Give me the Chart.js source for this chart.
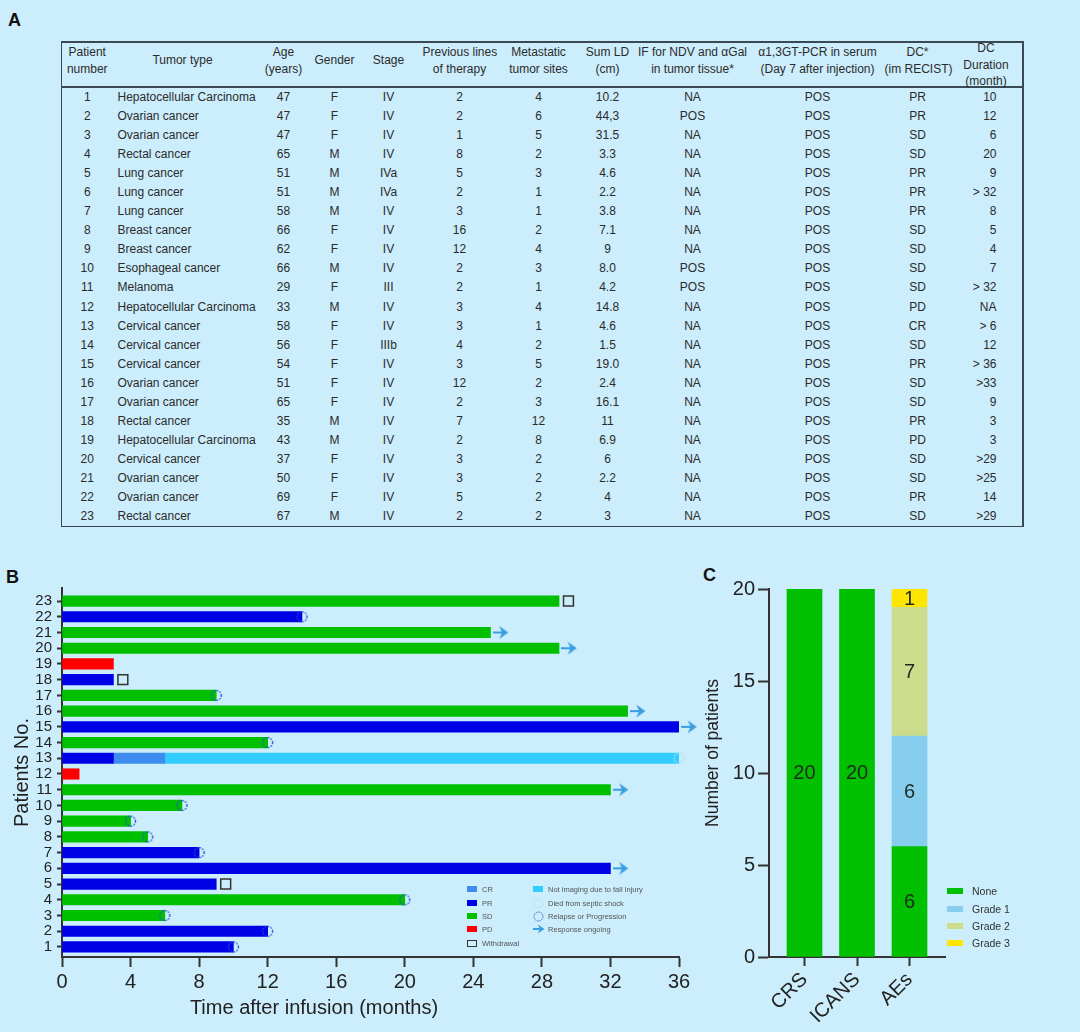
<!DOCTYPE html>
<html>
<head>
<meta charset="utf-8">
<script src="https://cdn.jsdelivr.net/npm/chart.js@4.4.1/dist/chart.umd.min.js"></script>
<style>
  body { margin: 0; width: 1080px; height: 1032px; background: #ccedfb; position: relative; overflow: hidden;
         font-family: Arial, "Liberation Sans", sans-serif; color: #2b2b2b; }
  .panel { position: absolute; font-weight: bold; font-size: 18px; color: #111; line-height: 18px; }
  #tbl { position: absolute; left: 61px; top: 41px; width: 962px; border-collapse: collapse; table-layout: fixed;
         font-size: 12px; border-top: 2px solid #3a4a54; border-bottom: 1.5px solid #3a4a54;
         border-left: 1.5px solid #3a4a54; border-right: 2px solid #3a4a54; }
  #tbl th { font-weight: normal; vertical-align: top; height: 43px; padding: 0; border-bottom: 2px solid #3a4a54;
            line-height: 16.5px; white-space: nowrap; overflow: visible; }
  #tbl th div { height: 0; overflow: visible; position: relative; }
  #tbl td { height: 19.05px; padding: 0; text-align: center; white-space: nowrap; line-height: 19px; }
  .box { position: absolute; }
  .leg { position: absolute; white-space: nowrap; }
  .leg span { position: absolute; top: 50%; transform: translateY(-50%); }
</style>
</head>
<body>
<div class="panel" style="left:8px;top:11px">A</div>
<div class="panel" style="left:6px;top:568px">B</div>
<div class="panel" style="left:703px;top:566px">C</div>

<table id="tbl"></table>

<div class="box" style="left:0;top:570px;width:720px;height:462px"><canvas id="swimmer"></canvas></div>
<div class="box" style="left:690px;top:570px;width:390px;height:462px"><canvas id="aes"></canvas></div>

<div id="xTitleB" style="position:absolute;left:114px;top:995px;width:400px;text-align:center;font-size:20px;color:#222;line-height:24px">Time after infusion (months)</div>
<div id="yTitleC" style="position:absolute;left:612px;top:742px;width:200px;height:22px;text-align:center;font-size:17.5px;color:#222;line-height:22px;transform:rotate(-90deg)">Number of patients</div>

<div id="legendB"></div>
<div id="legendC"></div>

<script>
// ---- table A ----
const patientNo = [1,2,3,4,5,6,7,8,9,10,11,12,13,14,15,16,17,18,19,20,21,22,23];
const tumorType = ['Hepatocellular Carcinoma','Ovarian cancer','Ovarian cancer','Rectal cancer','Lung cancer','Lung cancer',
  'Lung cancer','Breast cancer','Breast cancer','Esophageal cancer','Melanoma','Hepatocellular Carcinoma','Cervical cancer',
  'Cervical cancer','Cervical cancer','Ovarian cancer','Ovarian cancer','Rectal cancer','Hepatocellular Carcinoma',
  'Cervical cancer','Ovarian cancer','Ovarian cancer','Rectal cancer'];
const ageYears = [47,47,47,65,51,51,58,66,62,66,29,33,58,56,54,51,65,35,43,37,50,69,67];
const gender = ['F','F','F','M','M','M','M','F','F','M','F','M','F','F','F','F','F','M','M','F','F','F','M'];
const stage = ['IV','IV','IV','IV','IVa','IVa','IV','IV','IV','IV','III','IV','IV','IIIb','IV','IV','IV','IV','IV','IV','IV','IV','IV'];
const prevLines = [2,2,1,8,5,2,3,16,12,2,2,3,3,4,3,12,2,7,2,3,3,5,2];
const metSites = [4,6,5,2,3,1,1,2,4,3,1,4,1,2,5,2,3,12,8,2,2,2,2];
const sumLD = ['10.2','44,3','31.5','3.3','4.6','2.2','3.8','7.1','9','8.0','4.2','14.8','4.6','1.5','19.0','2.4','16.1','11','6.9','6','2.2','4','3'];
const ifTissue = ['NA','POS','NA','NA','NA','NA','NA','NA','NA','POS','POS','NA','NA','NA','NA','NA','NA','NA','NA','NA','NA','NA','NA'];
const pcrSerum = patientNo.map(() => 'POS');
const dcRecist = ['PR','PR','SD','SD','PR','PR','PR','SD','SD','SD','SD','PD','CR','SD','PR','SD','SD','PR','PD','SD','SD','PR','SD'];
const dcDuration = ['10','12','6','20','9','> 32','8','5','4','7','> 32','NA','> 6','12','> 36','>33','9','3','3','>29','>25','14','>29'];
const headers = ['Patient\nnumber','Tumor type','Age\n(years)','Gender','Stage','Previous lines\nof therapy','Metastatic\ntumor sites',
  'Sum LD\n(cm)','IF for NDV and \u03b1Gal\nin tumor tissue*','\u03b11,3GT-PCR in serum\n(Day 7 after injection)','DC*\n(im RECIST)','DC\nDuration\n(month)'];

// ---- panel B (swimmer) ----
const swimResponse = ['PR','PR','SD','SD','PR','PR','PR','SD','SD','SD','SD','PD','PR','SD','PR','SD','SD','PR','PD','SD','SD','PR','SD'];
const swimEnd = [10,12,6,20,9,32,8,5,4,7,32,1,3,12,36,33,9,3,3,29,25,14,29];
const crPatients = [13], crFrom = [3], crTo = [6];
const noImagingPatients = [13], noImagingFrom = [6], noImagingTo = [36];
const relapsePatients = [1,2,3,4,7,8,9,10,14,17,22];
const withdrawalPatients = [5,18,23];
const ongoingPatients = [6,11,15,16,20,21];
const septicPatients = [13];
const monthTicks = [0,4,8,12,16,20,24,28,32,36];

// ---- panel C (adverse events) ----
const aeCategories = ['CRS','ICANS','AEs'];
const gradeNone = [20,20,6];
const grade1 = [0,0,6];
const grade2 = [0,0,7];
const grade3 = [0,0,1];

// build table
const colWidths = [51,140,62,40,68,74,84,54,116,134,66,72];
const tbl = document.getElementById('tbl');
const cg = document.createElement('colgroup');
colWidths.forEach(w => { const c = document.createElement('col'); c.style.width = w + 'px'; cg.appendChild(c); });
tbl.appendChild(cg);
const hr = document.createElement('tr');
const headOffset = {1: 8.5, 2: 1, 3: -3};
headers.forEach(h => {
  const th = document.createElement('th');
  const d = document.createElement('div');
  const lines = h.split('\n');
  d.style.top = headOffset[lines.length] + 'px';
  d.innerHTML = lines.join('<br>');
  th.appendChild(d);
  hr.appendChild(th);
});
tbl.appendChild(hr);
patientNo.forEach((p, i) => {
  const tr = document.createElement('tr');
  const cells = [p, tumorType[i], ageYears[i], gender[i], stage[i], prevLines[i], metSites[i], sumLD[i], ifTissue[i], pcrSerum[i], dcRecist[i], dcDuration[i]];
  cells.forEach((v, k) => {
    const td = document.createElement('td');
    td.textContent = v;
    if (k === 1) { td.style.textAlign = 'left'; td.style.paddingLeft = '5px'; }
    if (k === 11) { td.style.textAlign = 'right'; td.style.paddingRight = '25px'; }
    tr.appendChild(td);
  });
  tbl.appendChild(tr);
});

// marker images
function makeMarker(w, h, draw) {
  const c = document.createElement('canvas');
  c.width = w; c.height = h;
  draw(c.getContext('2d'), w, h);
  return c;
}
function dotCircle(color) {
  return (x, w, h) => {
    x.setLineDash([1.6, 1.3]); x.lineWidth = 1.3; x.strokeStyle = color;
    x.beginPath(); x.arc(w / 2, h / 2, 5, 0, Math.PI * 2); x.stroke();
  };
}
function arrowDraw(x, w, h) {
  x.fillStyle = '#3a9ee0';
  x.fillRect(0, h / 2 - 1, w * 0.6, 2);
  x.beginPath();
  x.moveTo(w * 0.4, 0.5); x.lineTo(w - 0.5, h / 2); x.lineTo(w * 0.4, h - 0.5); x.lineTo(w * 0.58, h / 2);
  x.closePath(); x.fill();
}
const relapseImg = makeMarker(13, 13, dotCircle('#1f4fd8'));
const septicImg = makeMarker(13, 13, dotCircle('#a8def6'));
const arrowImg = makeMarker(16, 14, arrowDraw);

const responseColors = {CR: '#3f8cf0', PR: '#0000e6', SD: '#00c000', PD: '#ff0000'};
const noImagingColor = '#33ccff';
const axisColor = '#333';
const fontFamily = 'Arial, "Liberation Sans", sans-serif';
Chart.defaults.font.family = fontFamily;

function responseBars(resp) {
  return {
    type: 'bar', label: resp, indexAxis: 'y', grouped: false, order: 3,
    data: patientNo.filter((p, i) => swimResponse[i] === resp).map(p => ({y: p, x: [0, swimEnd[p - 1]]})),
    backgroundColor: responseColors[resp], barThickness: 10.5, borderWidth: 0
  };
}
const endOf = p => swimEnd[p - 1];

new Chart(document.getElementById('swimmer'), {
  type: 'bar',
  data: {
    datasets: [
      responseBars('PR'), responseBars('SD'), responseBars('PD'),
      { type: 'bar', label: 'CR', indexAxis: 'y', grouped: false, order: 3, barThickness: 10.5,
        data: crPatients.map((p, i) => ({y: p, x: [crFrom[i], crTo[i]]})), backgroundColor: responseColors.CR },
      { type: 'bar', label: 'Not imaging due to fall injury', indexAxis: 'y', grouped: false, order: 3, barThickness: 10.5,
        data: noImagingPatients.map((p, i) => ({y: p, x: [noImagingFrom[i], noImagingTo[i]]})), backgroundColor: noImagingColor },
      { type: 'scatter', label: 'Relapse or Progression', order: 1, clip: false, pointStyle: relapseImg, pointRadius: 7,
        data: relapsePatients.map(p => ({x: endOf(p), y: p})) },
      { type: 'scatter', label: 'Died from septic shock', order: 1, clip: false, pointStyle: septicImg, pointRadius: 7,
        data: septicPatients.map((p, i) => ({x: noImagingTo[i], y: p})) },
      { type: 'scatter', label: 'Withdrawal', order: 1, clip: false, pointStyle: 'rect', pointRadius: 7,
        pointBorderWidth: 1.5, pointBorderColor: '#333', pointBackgroundColor: 'rgba(0,0,0,0)',
        data: withdrawalPatients.map(p => ({x: endOf(p) + 0.55, y: p})) },
      { type: 'scatter', label: 'Response ongoing', order: 1, clip: false, pointStyle: arrowImg, pointRadius: 12,
        data: ongoingPatients.map(p => ({x: endOf(p) + 0.6, y: p})) }
    ]
  },
  options: {
    responsive: true, maintainAspectRatio: false, animation: false,
    layout: {padding: {top: 18, right: 41, left: 0, bottom: 0}},
    plugins: {legend: {display: false}, tooltip: {enabled: false}},
    scales: {
      x: {
        type: 'linear', min: 0, max: 36, offset: false,
        afterBuildTicks: s => { s.ticks = monthTicks.map(v => ({value: v})); },
        ticks: {font: {size: 20}, color: '#222', padding: 3, maxRotation: 0, autoSkip: false},
        grid: {offset: false, drawOnChartArea: false, tickLength: 10, tickWidth: 2, color: axisColor},
        border: {color: axisColor, width: 2},
        afterFit: s => { s.height = 75; }
      },
      y: {
        type: 'linear', min: 0.36, max: 23.83, offset: false,
        afterBuildTicks: s => { s.ticks = patientNo.map(v => ({value: v})); },
        ticks: {font: {size: 15}, color: '#222', padding: 5, autoSkip: false},
        grid: {offset: false, drawOnChartArea: false, tickLength: 5, tickWidth: 2, color: axisColor},
        border: {color: axisColor, width: 2},
        title: {display: true, text: 'Patients No.', font: {size: 20}, color: '#222', padding: {top: 10, bottom: 0}},
        afterFit: s => { s.width = 62; }
      }
    }
  }
});

// panel C
const gradeColors = ['#00c000', '#87cdee', '#cddc8c', '#ffe600'];
const gradeLabels = ['None', 'Grade 1', 'Grade 2', 'Grade 3'];
const gradeSeries = [gradeNone, grade1, grade2, grade3];
const barValueLabels = {
  id: 'barValueLabels',
  afterDatasetsDraw(chart) {
    const ctx = chart.ctx;
    ctx.save();
    ctx.font = '20px ' + fontFamily;
    ctx.fillStyle = '#1d2a1d';
    ctx.textAlign = 'center';
    ctx.textBaseline = 'middle';
    chart.data.datasets.forEach((ds, i) => {
      chart.getDatasetMeta(i).data.forEach((bar, j) => {
        const v = ds.data[j].y;
        if (!v) return;
        ctx.fillText(String(v), bar.x, (bar.y + bar.base) / 2 + 1);
      });
    });
    ctx.restore();
  }
};
new Chart(document.getElementById('aes'), {
  type: 'bar',
  data: {
    datasets: gradeSeries.map((vals, k) => ({
      label: gradeLabels[k], backgroundColor: gradeColors[k], barThickness: 35, borderWidth: 0,
      data: vals.map((v, i) => ({x: i + 1, y: v}))
    }))
  },
  options: {
    responsive: true, maintainAspectRatio: false, animation: false,
    layout: {padding: {top: 19, right: 135, left: 0, bottom: 0}},
    plugins: {legend: {display: false}, tooltip: {enabled: false}},
    scales: {
      x: {
        type: 'linear', min: 0.324, max: 3.676, stacked: true, offset: false,
        afterBuildTicks: s => { s.ticks = aeCategories.map((c, i) => ({value: i + 1})); },
        ticks: {font: {size: 20}, color: '#222', padding: 2, minRotation: 45, maxRotation: 45, autoSkip: false,
                callback: v => aeCategories[v - 1]},
        grid: {offset: false, drawOnChartArea: false, tickLength: 9, tickWidth: 2, color: axisColor},
        border: {color: axisColor, width: 2},
        afterFit: s => { s.height = 75; }
      },
      y: {
        type: 'linear', min: 0, max: 20, stacked: true,
        ticks: {stepSize: 5, font: {size: 20}, color: '#222', padding: 3},
        grid: {drawOnChartArea: false, tickLength: 11, tickWidth: 2, color: axisColor},
        border: {color: axisColor, width: 2},
        afterFit: s => { s.width = 79; }
      }
    }
  },
  plugins: [barValueLabels]
});

// legends
function legendRow(parent, left, cy, markerEl, text, textLeft, size, color) {
  const row = document.createElement('div');
  row.className = 'leg';
  row.style.left = left + 'px'; row.style.top = (cy - 8) + 'px'; row.style.height = '16px';
  row.style.fontSize = size + 'px'; row.style.color = color;
  markerEl.style.position = 'absolute';
  markerEl.style.left = '0px';
  markerEl.style.top = (8 - markerEl.offsetHeightHint / 2) + 'px';
  row.appendChild(markerEl);
  const t = document.createElement('span');
  t.textContent = text;
  t.style.left = (textLeft - left) + 'px';
  row.appendChild(t);
  parent.appendChild(row);
}
function swatch(w, h, bg, border) {
  const d = document.createElement('div');
  d.style.width = w + 'px'; d.style.height = h + 'px';
  d.style.boxSizing = 'border-box';
  if (bg) d.style.background = bg;
  if (border) d.style.border = border;
  d.offsetHeightHint = h;
  return d;
}
function imgMarker(w, h, draw) {
  const c = makeMarker(w, h, draw);
  c.offsetHeightHint = h;
  return c;
}
const legB = document.getElementById('legendB');
const legBLeft = [
  ['CR', swatch(10, 6, responseColors.CR)],
  ['PR', swatch(10, 6, responseColors.PR)],
  ['SD', swatch(10, 6, responseColors.SD)],
  ['PD', swatch(10, 6, responseColors.PD)],
  ['Withdrawal', swatch(10, 7, null, '1.2px solid #333')]
];
const legBRight = [
  ['Not imaging due to fall injury', swatch(10, 6, noImagingColor)],
  ['Died from septic shock', imgMarker(11, 11, (x, w, h) => { x.setLineDash([1.2, 1.1]); x.lineWidth = 1; x.strokeStyle = '#a8def6'; x.beginPath(); x.arc(w/2, h/2, 4.5, 0, Math.PI*2); x.stroke(); })],
  ['Relapse or Progression', imgMarker(11, 11, (x, w, h) => { x.setLineDash([1.2, 1.1]); x.lineWidth = 1; x.strokeStyle = '#1f4fd8'; x.beginPath(); x.arc(w/2, h/2, 4.5, 0, Math.PI*2); x.stroke(); })],
  ['Response ongoing', imgMarker(12, 10, arrowDraw)]
];
const legBRows = [889, 903, 916, 929, 943];
legBLeft.forEach(([t, m], i) => legendRow(legB, 467, legBRows[i], m, t, 482, 7.5, '#555'));
legBRight.forEach(([t, m], i) => legendRow(legB, 533, legBRows[i], m, t, 548, 7.5, '#555'));

const legC = document.getElementById('legendC');
const legCRows = [891, 909, 926, 943];
gradeLabels.forEach((t, i) => legendRow(legC, 947, legCRows[i], swatch(16, 6, gradeColors[i]), t, 972, 10.5, '#333'));
</script>
</body>
</html>
